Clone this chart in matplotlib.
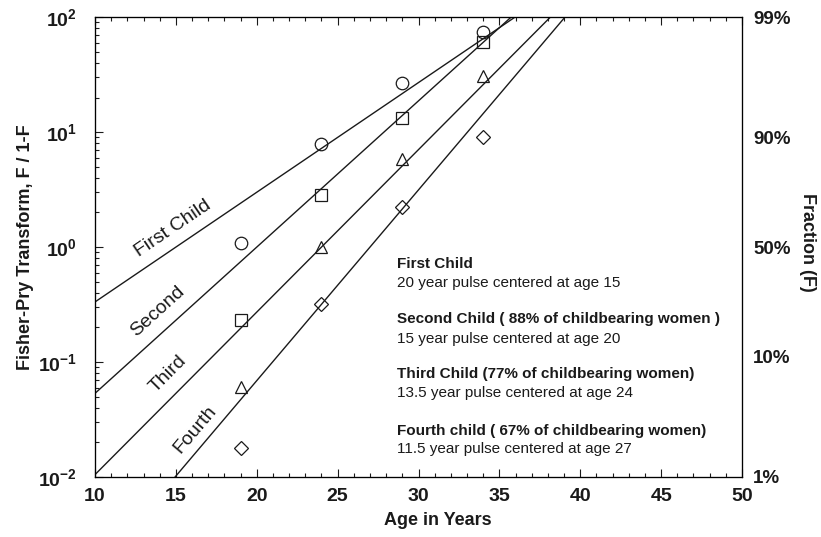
import numpy as np
import matplotlib
matplotlib.use('Agg')
import matplotlib.pyplot as plt
import matplotlib.ticker as mticker
import matplotlib.transforms as mtransforms

plt.rcParams['font.family'] = ['Liberation Sans', 'DejaVu Sans']
plt.rcParams['mathtext.fontset'] = 'custom'
plt.rcParams['mathtext.rm'] = 'Liberation Sans:bold'
plt.rcParams['mathtext.bf'] = 'Liberation Sans:bold'

# observed data (age, F/(1-F))
ages = [19, 24, 29, 34]
first_obs = [1.08, 7.9, 26.7, 74]
second_obs = [0.232, 2.83, 13.2, 60.6]
third_obs = [0.061, 1.0, 5.8, 30.7]
fourth_obs = [0.0179, 0.319, 2.23, 9.05]

# Fisher-Pry fits: pulse width (10%-90%) and centre age
names = ['First Child', 'Second', 'Third', 'Fourth']
widths = [20.0, 15.0, 13.5, 11.5]
centers = [15.0, 20.0, 24.0, 27.0]
markers = ['o', 's', '^', 'D']

# curve label positions
label_x = [14.8, 13.9, 14.5, 16.2]
label_y = [1.46, 0.277, 0.0787, 0.0261]

notes_bold = ['First Child',
              'Second Child ( 88% of childbearing women )',
              'Third Child (77% of childbearing women)',
              'Fourth child ( 67% of childbearing women)']
notes_text = ['20 year pulse centered at age 15',
              '15 year pulse centered at age 20',
              '13.5 year pulse centered at age 24',
              '11.5 year pulse centered at age 27']

frac_labels = ['1%', '10%', '50%', '90%', '99%']
frac_values = [0.01, 0.10, 0.50, 0.90, 0.99]

ink = '#1a1a1a'

fig = plt.figure(figsize=(8.21, 5.37), dpi=100)
ax = fig.add_axes([0.1157, 0.1117, 0.9038 - 0.1157, 0.968 - 0.1117])
ax.set_yscale('log')
ax.set_xlim(10, 50)
ax.set_ylim(1e-2, 1e2)

xs = np.linspace(10, 50, 401)
for w, c in zip(widths, centers):
    a = np.log(81.0) / w
    ax.plot(xs, np.exp(a * (xs - c)), color=ink, lw=1.0)

for obs, m in zip([first_obs, second_obs, third_obs, fourth_obs], markers):
    ms = 7.5 if m == 'D' else 9
    ax.plot(ages, obs, linestyle='none', marker=m, ms=ms, mfc='none',
            mec=ink, mew=0.9)

# curve labels rotated along the lines
for name, w, c, lx, ly in zip(names, widths, centers, label_x, label_y):
    a = np.log(81.0) / w
    p0 = ax.transData.transform((lx - 1, np.exp(a * (lx - 1 - c))))
    p1 = ax.transData.transform((lx + 1, np.exp(a * (lx + 1 - c))))
    ang = np.degrees(np.arctan2(p1[1] - p0[1], p1[0] - p0[0]))
    ax.text(lx, ly, name, rotation=ang, rotation_mode='anchor',
            ha='center', va='center', fontsize=14, color=ink)

# annotation block
trans = mtransforms.blended_transform_factory(ax.transData, ax.transAxes)
bold_y = [0.463, 0.343, 0.224, 0.100]
text_y = [0.422, 0.300, 0.183, 0.061]
for b, t, yb, yt in zip(notes_bold, notes_text, bold_y, text_y):
    ax.text(28.7, yb, b, transform=trans, fontsize=11, fontweight='bold',
            va='center', ha='left', color=ink)
    ax.text(28.7, yt, t, transform=trans, fontsize=11, va='center',
            ha='left', color=ink)

# ticks
ax.xaxis.set_major_locator(mticker.MultipleLocator(5))
ax.xaxis.set_minor_locator(mticker.MultipleLocator(1))
ax.yaxis.set_major_locator(mticker.LogLocator(base=10, numticks=10))
ax.yaxis.set_minor_locator(mticker.LogLocator(base=10, subs=np.arange(2, 10), numticks=20))
ax.yaxis.set_minor_formatter(mticker.NullFormatter())
ax.yaxis.set_major_formatter(mticker.FuncFormatter(
    lambda v, p: r'$\mathbf{10^{%d}}$' % int(round(np.log10(v)))))
ax.tick_params(which='both', direction='in', top=True, right=True,
               colors=ink, width=0.8)
ax.tick_params(which='major', length=6, labelsize=14)
ax.tick_params(axis='x', which='major', pad=8)
ax.tick_params(axis='y', which='major', pad=13)
ax.tick_params(which='minor', length=3)
for lab in ax.get_xticklabels():
    lab.set_fontweight('bold')
for s in ax.spines.values():
    s.set_linewidth(0.9)
    s.set_color(ink)

ax.set_xlabel('Age in Years', fontsize=13, fontweight='bold', color=ink)
ax.xaxis.set_label_coords(0.53, -0.075)
ax.set_ylabel('Fisher-Pry Transform, F / 1-F', fontsize=13,
              fontweight='bold', color=ink)
ax.yaxis.set_label_coords(-0.095, 0.5)

# right axis in fraction F
ax2 = ax.twinx()
ax2.set_yscale('log')
ax2.set_ylim(ax.get_ylim())
ax2.yaxis.set_major_locator(mticker.FixedLocator(
    [f / (1 - f) for f in frac_values]))
ax2.yaxis.set_major_formatter(mticker.FixedFormatter(frac_labels))
ax2.yaxis.set_minor_locator(mticker.NullLocator())
ax2.tick_params(length=0, labelsize=13.5, pad=8, colors=ink)
for lab in ax2.get_yticklabels():
    lab.set_fontweight('bold')
ax2.set_ylabel('Fraction (F)', rotation=270, fontsize=13,
               fontweight='bold', color=ink)
ax2.yaxis.set_label_coords(1.115, 0.51)

fig.savefig('out.png', dpi=100)
